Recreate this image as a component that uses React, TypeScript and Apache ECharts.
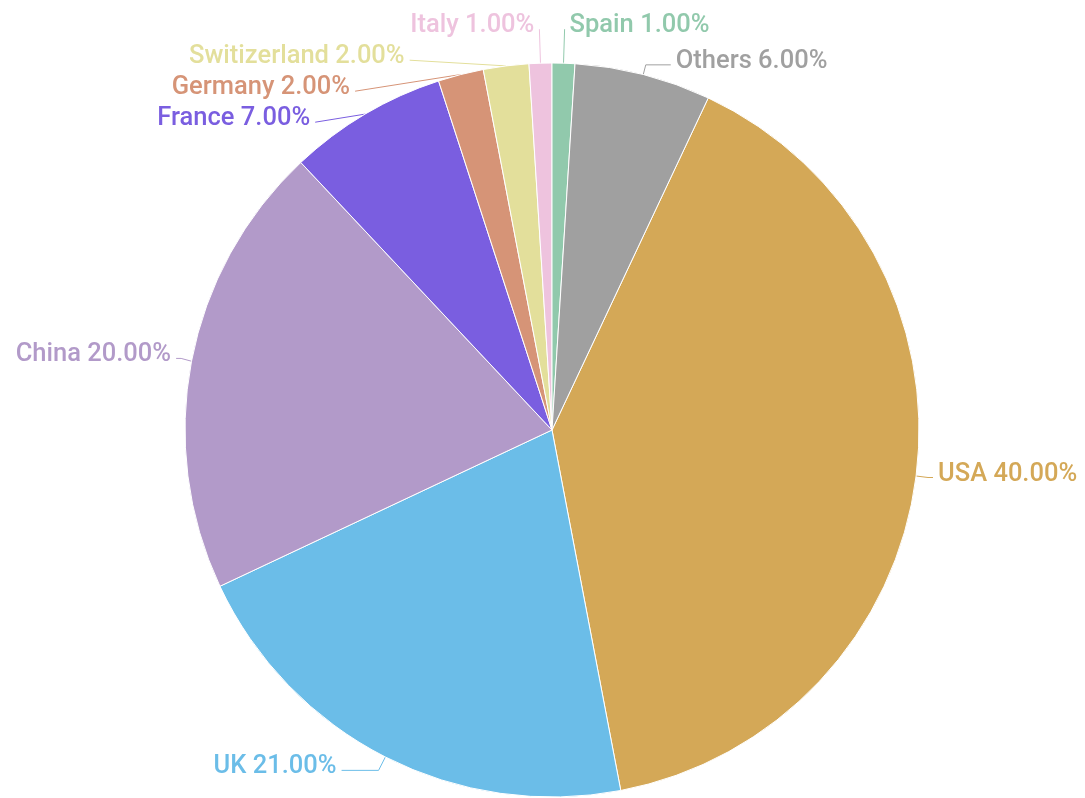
import React, { useEffect, useRef } from "react";
import * as echarts from "echarts";

const categories = ["USA", "UK", "China", "France", "Germany", "Switizerland", "Italy", "Spain", "Others"];
const values = [40, 21, 20, 7, 2, 2, 1, 1, 6];
const colors = ["#d4a857", "#6bbde8", "#b29ac9", "#7a5ee0", "#d69477", "#e3df9b", "#eec3de", "#91c9ac", "#a0a0a0"];
const lineLengths = [12, 15, 15, 10, 10, 13, 34, 34, 10];
const lineLengths2 = [5, 37, 5, 0, 0, 0, 0, 0, 25];

export default function App() {
  const ref = useRef<HTMLDivElement>(null);
  useEffect(() => {
    const chart = echarts.init(ref.current!, null, { renderer: "svg" });
    const total = values.reduce((a, b) => a + b, 0);
    chart.setOption({
      animation: false,
      color: colors,
      series: [
        {
          type: "pie",
          center: [552, 430],
          radius: 367,
          startAngle: 64.8,
          itemStyle: { borderColor: "#fff", borderWidth: 1 },
          label: {
            show: true,
            overflow: "none",
            fontFamily: "Roboto",
            fontSize: 8,
            lineHeight: 8,
            fontWeight: 500,
            formatter: (p: any) => `{t|${p.name} ${((p.value / total) * 100).toFixed(2)}%}\n{s| }`,
            rich: {
              t: { fontFamily: "Roboto", fontSize: 25.5, fontWeight: 500, lineHeight: 8 },
              s: { fontSize: 8, lineHeight: 12 },
            },
          },
          labelLine: { show: true, length: 15, length2: 10 },
          data: categories.map((c, i) => ({
            name: c,
            value: values[i],
            label: { color: colors[i] },
            labelLine: { length: lineLengths[i], length2: lineLengths2[i] },
          })),
        },
      ],
    });
    return () => chart.dispose();
  }, []);
  return <div ref={ref} style={{ position: "fixed", left: 0, top: 0, width: 1085, height: 798 }} />;
}
